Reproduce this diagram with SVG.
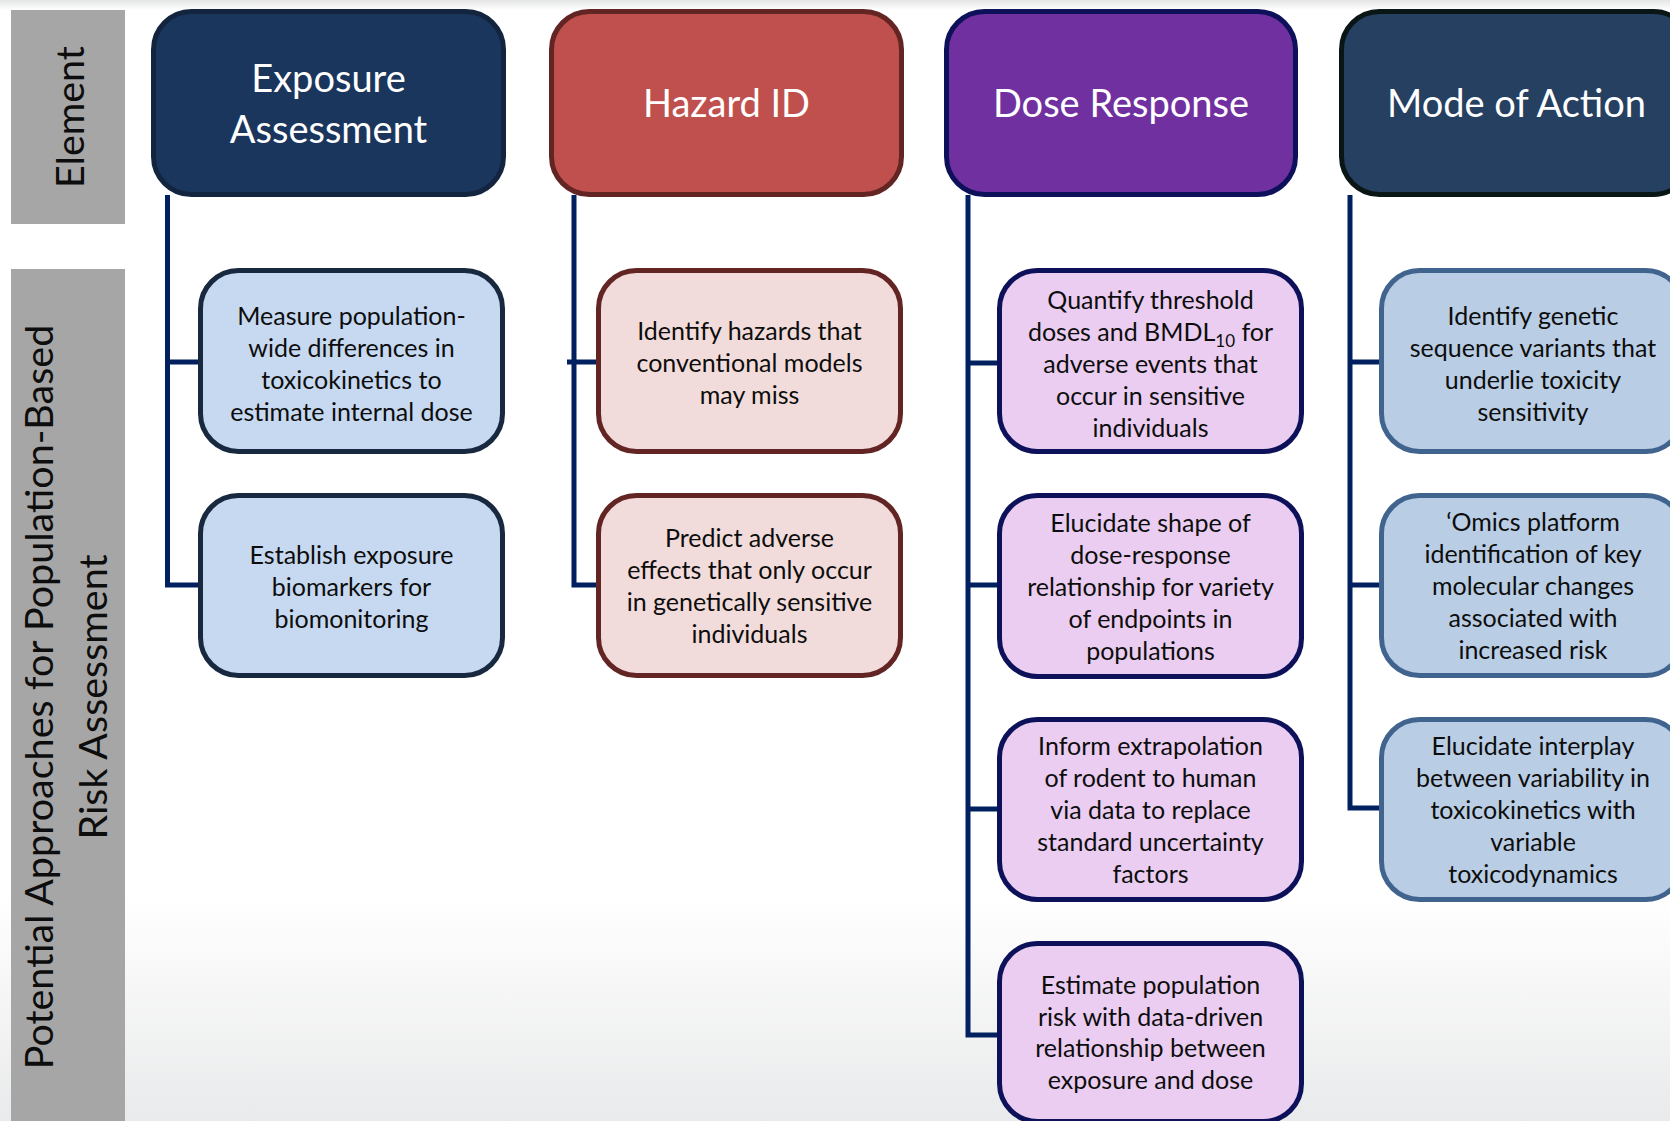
<svg xmlns="http://www.w3.org/2000/svg" width="1670" height="1121" viewBox="0 0 1670 1121">
  <defs>
    <linearGradient id="bg" x1="0" y1="0" x2="0" y2="1">
      <stop offset="0" stop-color="#e4e5e6"/>
      <stop offset="0.009" stop-color="#ffffff"/>
      <stop offset="0.80" stop-color="#ffffff"/>
      <stop offset="1" stop-color="#e9eaeb"/>
    </linearGradient>
  </defs>
  <style>
    .hdr { stroke-width: 5; }
    .child { stroke-width: 5; }
    .ht { font-family: "Lato", "Carlito", "Liberation Sans", sans-serif; font-size: 38px; fill: #ffffff; text-anchor: middle; }
    .ct { font-family: "Lato", "Carlito", "Liberation Sans", sans-serif; font-size: 25px; fill: #0d0d0d; text-anchor: middle; }
    .side { font-family: "Lato", "Carlito", "Liberation Sans", sans-serif; font-size: 39.5px; fill: #0d0d0d; text-anchor: middle; }
    .conn { fill: none; stroke: #002060; stroke-width: 5; stroke-linejoin: miter; stroke-linecap: butt; }
    .ea { fill: #1b365d; stroke: #13243f; }
    .hz { fill: #c0504d; stroke: #632523; }
    .dr { fill: #7030a0; stroke: #0d1159; }
    .ma { fill: #264061; stroke: #0a1616; }
    .eac { fill: #c6d9f1; stroke: #17283f; }
    .hzc { fill: #f2dcdb; stroke: #632523; }
    .drc { fill: #eacdf1; stroke: #0d1159; }
    .mac { fill: #b9cde5; stroke: #41648f; }
  </style>

  <rect x="0" y="0" width="1670" height="1121" fill="url(#bg)"/>

  <g id="label-element">
    <rect x="11" y="10" width="114" height="214" fill="#a6a6a6"/>
    <text class="side" transform="translate(84,117) rotate(-90)">Element</text>
  </g>
  <g id="label-approaches">
    <rect x="11" y="269" width="114" height="860" fill="#a6a6a6"/>
    <text class="side" transform="translate(53,697) rotate(-90)">Potential Approaches for Population-Based</text>
    <text class="side" transform="translate(107,697) rotate(-90)">Risk Assessment</text>
  </g>

  <g id="connectors">
    <path class="conn" d="M167.5,195 V585 H201 M167.5,362 H201"/>
    <path class="conn" d="M574,195 V585 H599 M567,362 H599"/>
    <path class="conn" d="M968,195 V1035 H1000 M968,363 H1000 M968,585 H1000 M968,809 H1000"/>
    <path class="conn" d="M1350,195 V808 H1382 M1350,362 H1382 M1350,585 H1382"/>
  </g>

  <g id="exposure-assessment">
    <rect class="hdr ea" x="153.5" y="11.5" width="350" height="183" rx="38"/>
    <text class="ht"><tspan x="328.5" y="92">Exposure</tspan><tspan x="328.5" y="143">Assessment</tspan></text>
  </g>
  <g id="hazard-id">
    <rect class="hdr hz" x="551.5" y="11.5" width="350" height="183" rx="38"/>
    <text class="ht" x="726.5" y="117">Hazard ID</text>
  </g>
  <g id="dose-response">
    <rect class="hdr dr" x="946.5" y="11.5" width="349" height="183" rx="38"/>
    <text class="ht" x="1121" y="117">Dose Response</text>
  </g>
  <g id="mode-of-action">
    <rect class="hdr ma" x="1341.5" y="11.5" width="350" height="183" rx="38"/>
    <text class="ht" x="1516.5" y="117">Mode of Action</text>
  </g>

  <g id="ea-1">
    <rect class="child eac" x="200.5" y="270.5" width="302" height="181" rx="38"/>
    <text class="ct"><tspan x="351.5" y="324.5">Measure population-</tspan><tspan x="351.5" y="356.5">wide differences in</tspan><tspan x="351.5" y="388.5">toxicokinetics to</tspan><tspan x="351.5" y="420.5">estimate internal dose</tspan></text>
  </g>
  <g id="ea-2">
    <rect class="child eac" x="200.5" y="495.5" width="302" height="180" rx="38"/>
    <text class="ct"><tspan x="351.5" y="563.5">Establish exposure</tspan><tspan x="351.5" y="595.5">biomarkers for</tspan><tspan x="351.5" y="627.5">biomonitoring</tspan></text>
  </g>

  <g id="hz-1">
    <rect class="child hzc" x="598.5" y="270.5" width="302" height="181" rx="38"/>
    <text class="ct"><tspan x="749.5" y="340">Identify hazards that</tspan><tspan x="749.5" y="372">conventional models</tspan><tspan x="749.5" y="404">may miss</tspan></text>
  </g>
  <g id="hz-2">
    <rect class="child hzc" x="598.5" y="495.5" width="302" height="180" rx="38"/>
    <text class="ct"><tspan x="749.5" y="546.5">Predict adverse</tspan><tspan x="749.5" y="578.5">effects that only occur</tspan><tspan x="749.5" y="610.5">in genetically sensitive</tspan><tspan x="749.5" y="642.5">individuals</tspan></text>
  </g>

  <g id="dr-1">
    <rect class="child drc" x="999.5" y="270.5" width="302" height="181" rx="38"/>
    <text class="ct"><tspan x="1150.5" y="308.5">Quantify threshold</tspan><tspan x="1150.5" y="340.5">doses and BMDL<tspan font-size="17" dy="6">10</tspan><tspan dy="-6"> for</tspan></tspan><tspan x="1150.5" y="372.5">adverse events that</tspan><tspan x="1150.5" y="404.5">occur in sensitive</tspan><tspan x="1150.5" y="436.5">individuals</tspan></text>
  </g>
  <g id="dr-2">
    <rect class="child drc" x="999.5" y="495.5" width="302" height="181" rx="38"/>
    <text class="ct"><tspan x="1150.5" y="531.5">Elucidate shape of</tspan><tspan x="1150.5" y="563.5">dose-response</tspan><tspan x="1150.5" y="595.5">relationship for variety</tspan><tspan x="1150.5" y="627.5">of endpoints in</tspan><tspan x="1150.5" y="659.5">populations</tspan></text>
  </g>
  <g id="dr-3">
    <rect class="child drc" x="999.5" y="719.5" width="302" height="180" rx="38"/>
    <text class="ct"><tspan x="1150.5" y="754.5">Inform extrapolation</tspan><tspan x="1150.5" y="786.5">of rodent to human</tspan><tspan x="1150.5" y="818.5">via data to replace</tspan><tspan x="1150.5" y="850.5">standard uncertainty</tspan><tspan x="1150.5" y="882.5">factors</tspan></text>
  </g>
  <g id="dr-4">
    <rect class="child drc" x="999.5" y="943.5" width="302" height="178" rx="38"/>
    <text class="ct"><tspan x="1150.5" y="993.5">Estimate population</tspan><tspan x="1150.5" y="1025.5">risk with data-driven</tspan><tspan x="1150.5" y="1057">relationship between</tspan><tspan x="1150.5" y="1089">exposure and dose</tspan></text>
  </g>

  <g id="ma-1">
    <rect class="child mac" x="1381.5" y="270.5" width="302" height="181" rx="38"/>
    <text class="ct"><tspan x="1533" y="324.5">Identify genetic</tspan><tspan x="1533" y="356.5">sequence variants that</tspan><tspan x="1533" y="388.5">underlie toxicity</tspan><tspan x="1533" y="420.5">sensitivity</tspan></text>
  </g>
  <g id="ma-2">
    <rect class="child mac" x="1381.5" y="495.5" width="302" height="180" rx="38"/>
    <text class="ct"><tspan x="1533" y="530.5">‘Omics platform</tspan><tspan x="1533" y="562.5">identification of key</tspan><tspan x="1533" y="594.5">molecular changes</tspan><tspan x="1533" y="626.5">associated with</tspan><tspan x="1533" y="658.5">increased risk</tspan></text>
  </g>
  <g id="ma-3">
    <rect class="child mac" x="1381.5" y="719.5" width="302" height="180" rx="38"/>
    <text class="ct"><tspan x="1533" y="754.5">Elucidate interplay</tspan><tspan x="1533" y="786.5">between variability in</tspan><tspan x="1533" y="818.5">toxicokinetics with</tspan><tspan x="1533" y="850.5">variable</tspan><tspan x="1533" y="882.5">toxicodynamics</tspan></text>
  </g>
</svg>
